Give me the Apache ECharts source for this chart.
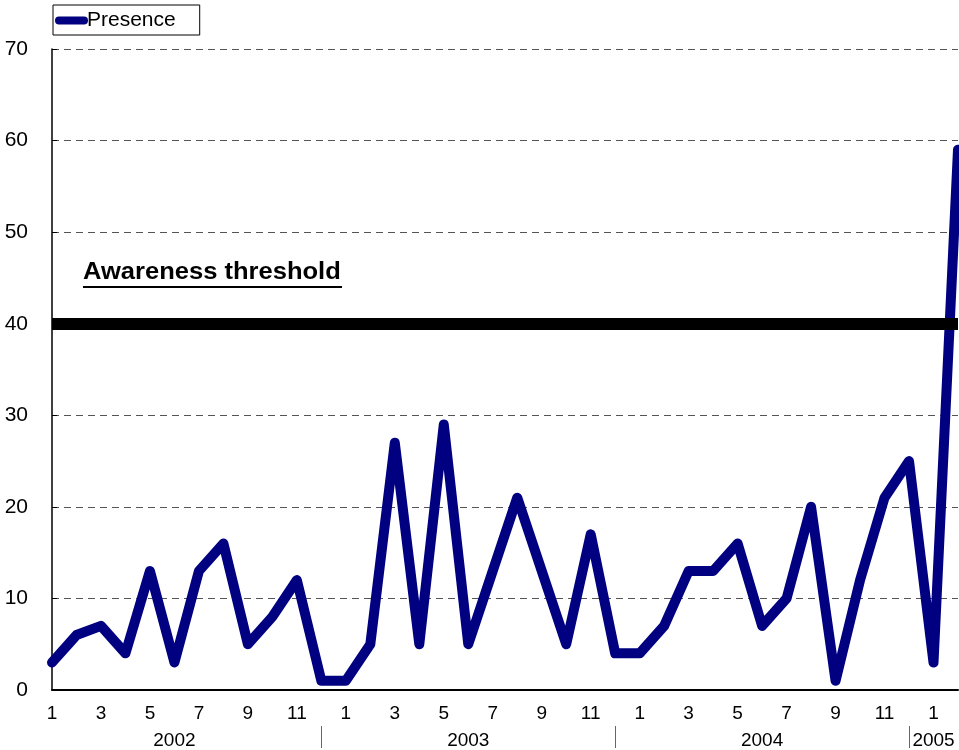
<!DOCTYPE html>
<html>
<head>
<meta charset="utf-8">
<script src="https://cdn.jsdelivr.net/npm/echarts@6/dist/echarts.min.js"></script>
<style>
  html, body { margin: 0; padding: 0; background: #fff; }
  #chart { width: 959px; height: 750px; }
</style>
</head>
<body>
<div id="chart"></div>
<script>
// Monthly periods, January 2002 to February 2005
const periods = [
  '2002-1','2002-2','2002-3','2002-4','2002-5','2002-6','2002-7','2002-8','2002-9','2002-10','2002-11','2002-12',
  '2003-1','2003-2','2003-3','2003-4','2003-5','2003-6','2003-7','2003-8','2003-9','2003-10','2003-11','2003-12',
  '2004-1','2004-2','2004-3','2004-4','2004-5','2004-6','2004-7','2004-8','2004-9','2004-10','2004-11','2004-12',
  '2005-1','2005-2'
];

// Presence index per month
const presence = [
  3, 6, 7, 4, 13, 3, 13, 16, 5, 8, 12, 1,
  1, 5, 27, 5, 29, 5, 13, 21, 13, 5, 17, 4,
  4, 7, 13, 13, 16, 7, 10, 20, 1, 12, 21, 25,
  3, 59
];

const seriesName = 'Presence';
const thresholdValue = 40;
const thresholdLabel = 'Awareness threshold';
const yTicks = { min: 0, max: 70, step: 10 };

const monthOf = p => Number(p.split('-')[1]);
const yearOf = p => p.split('-')[0];
const lastYear = yearOf(periods[periods.length - 1]);

// year caption sits mid-year for full years, on the first month of the partial one
const showYear = (idx, p) =>
  (yearOf(p) !== lastYear && monthOf(p) === 6) ||
  (yearOf(p) === lastYear && monthOf(p) === 1);

const FONT = 'Liberation Sans, Arial, sans-serif';

const chart = echarts.init(document.getElementById('chart'), null, { renderer: 'canvas' });

chart.setOption({
  backgroundColor: '#ffffff',
  animation: false,
  textStyle: { fontFamily: FONT, color: '#000' },
  grid: { left: 52, right: 1, top: 49, bottom: 58, containLabel: false },
  legend: {
    data: [seriesName],
    left: 53,
    top: 5,
    padding: [5, 24, 4, 2],
    itemWidth: 33,
    itemHeight: 9,
    itemGap: 0,
    borderColor: '#000',
    borderWidth: 1,
    icon: 'path://M4,0 H29 A4,4 0 0 1 29,8 H4 A4,4 0 0 1 4,0 Z',
    textStyle: { fontSize: 21, color: '#000', fontFamily: FONT, padding: [0, 0, 0, -6] }
  },
  xAxis: [
    {
      type: 'category',
      data: periods,
      boundaryGap: false,
      axisLine: { lineStyle: { color: '#000', width: 2 } },
      axisTick: { show: false },
      axisLabel: {
        interval: 1,
        margin: 14,
        fontSize: 19,
        color: '#000',
        fontFamily: FONT,
        formatter: v => String(monthOf(v))
      },
      splitLine: { show: false }
    },
    {
      type: 'category',
      data: periods,
      boundaryGap: false,
      position: 'bottom',
      offset: 36,
      axisLine: { show: false },
      axisTick: {
        show: true,
        length: 22,
        interval: (idx, p) => monthOf(p) === 12,
        lineStyle: { color: '#666', width: 1 }
      },
      axisLabel: {
        interval: showYear,
        margin: 5,
        fontSize: 19,
        color: '#000',
        fontFamily: FONT,
        formatter: v => yearOf(v)
      },
      splitLine: { show: false }
    }
  ],
  yAxis: {
    type: 'value',
    min: yTicks.min,
    max: yTicks.max,
    interval: yTicks.step,
    axisLine: { show: true, lineStyle: { color: '#000', width: 1.5 } },
    axisTick: { show: true, inside: true, length: 5, lineStyle: { color: '#000' } },
    axisLabel: { margin: 24, fontSize: 21, color: '#000', fontFamily: FONT },
    splitLine: { show: true, lineStyle: { color: '#555', width: 1, type: [7, 5] } }
  },
  series: [
    {
      name: seriesName,
      type: 'line',
      xAxisIndex: 0,
      data: presence,
      symbol: 'none',
      color: '#000080',
      clip: true,
      lineStyle: { color: '#000080', width: 10, cap: 'round', join: 'round' },
      markLine: {
        silent: true,
        symbol: 'none',
        label: { show: false },
        lineStyle: { color: '#000', width: 12, type: 'solid', cap: 'butt' },
        emphasis: { disabled: true },
        data: [{ yAxis: thresholdValue }]
      },
      z: 3
    }
  ],
  graphic: [
    {
      type: 'group',
      left: 83,
      top: 261,
      children: [
        {
          type: 'text',
          scaleX: 1.11,
          style: {
            text: thresholdLabel,
            x: 0,
            y: 0,
            fill: '#000',
            font: 'bold 23px ' + FONT
          }
        },
        {
          type: 'rect',
          shape: { x: 0, y: 25, width: 259, height: 2 },
          style: { fill: '#000' }
        }
      ]
    }
  ]
});
</script>
</body>
</html>
